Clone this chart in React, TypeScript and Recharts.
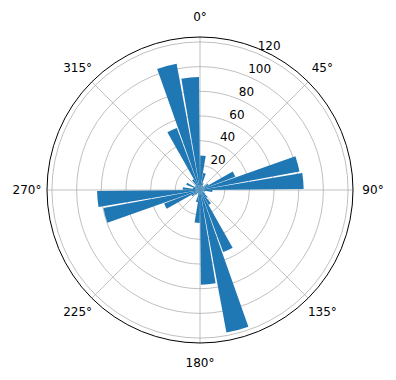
import { RadialBarChart, RadialBar, RadarChart, Radar, PolarGrid, PolarAngleAxis, PolarRadiusAxis } from 'recharts'

// sector start (compass degrees, clockwise from north) and bar height per sector
const sectors = [0, 10, 20, 30, 40, 50, 60, 70, 80, 90, 100, 110, 120, 130, 140, 150, 160, 170,
  180, 190, 200, 210, 220, 230, 240, 250, 260, 270, 280, 290, 300, 310, 320, 330, 340, 350]
const counts = [28, 14, 6, 4, 3, 8, 30.5, 82, 84, 10, 4, 3, 5, 8, 14, 53.7, 117.5, 76.7,
  26.7, 10, 4, 3, 5, 8, 31, 79.6, 83.4, 14, 6, 12, 5, 4, 10, 53.7, 104, 91.5]

const angleLabels = ['0°', '45°', '90°', '135°', '180°', '225°', '270°', '315°']
const radiusTicks = [20, 40, 60, 80, 100, 120]
const R_MAX = 123.6

const rows = sectors.map((s, i) => ({ dir: s, count: counts[i] }))
// the grid layer needs a series to build its axes; it stays invisible at r = 0
const gridRows = angleLabels.map((l) => ({ label: l, base: 0 }))

const FONT = 'DejaVu Sans, sans-serif'
const W = 396
const H = 380
const CX = 200
const CY = 190
const OUTER = 153
const noMargin = { top: 0, right: 0, bottom: 0, left: 0 }

function AngleLabel(props: any) {
  const { x, y, payload } = props
  return (
    <text x={x} y={y} textAnchor="middle" dominantBaseline="central" fontSize={12} fontFamily={FONT} fill="#000">
      {payload.value}
    </text>
  )
}

function RadiusLabel(props: any) {
  const { x, y, payload } = props
  return (
    <text x={x} y={y} dx={1} dy={-3} textAnchor="start" fontSize={12} fontFamily={FONT} fill="#000">
      {payload.value}
    </text>
  )
}

export default function App() {
  return (
    <div style={{ position: 'absolute', left: 0, top: 0, width: W, height: H, background: '#fff' }}>
      {/* grid, outer circle and labels */}
      <div style={{ position: 'absolute', left: 0, top: 0 }}>
        <RadarChart
          width={W}
          height={H}
          cx={CX}
          cy={CY}
          innerRadius={0}
          outerRadius={OUTER}
          startAngle={90}
          endAngle={-270}
          data={gridRows}
          margin={noMargin}
        >
          <PolarGrid gridType="circle" stroke="#b0b0b0" strokeWidth={0.8} />
          <PolarAngleAxis
            dataKey="label"
            tick={AngleLabel}
            tickLine={false}
            tickSize={20}
            axisLineType="circle"
            stroke="#000"
            axisLine={{ stroke: '#000', strokeWidth: 1 }}
          />
          <PolarRadiusAxis
            type="number"
            domain={[0, R_MAX]}
            ticks={radiusTicks}
            angle={67.5}
            axisLine={false}
            tick={RadiusLabel}
          />
          <Radar dataKey="base" stroke="none" fill="none" dot={false} isAnimationActive={false} />
        </RadarChart>
      </div>
      {/* bars */}
      <div style={{ position: 'absolute', left: 0, top: 0 }}>
        <RadialBarChart
          width={W}
          height={H}
          cx={CX}
          cy={CY}
          innerRadius={0}
          outerRadius={OUTER}
          startAngle={80}
          endAngle={-280}
          data={rows}
          layout="centric"
          barCategoryGap="5%"
          margin={noMargin}
        >
          <PolarAngleAxis dataKey="dir" type="category" tick={false} tickLine={false} axisLine={false} />
          <PolarRadiusAxis type="number" domain={[0, R_MAX]} tick={false} axisLine={false} />
          <RadialBar dataKey="count" fill="#1f77b4" isAnimationActive={false} />
        </RadialBarChart>
      </div>
    </div>
  )
}
